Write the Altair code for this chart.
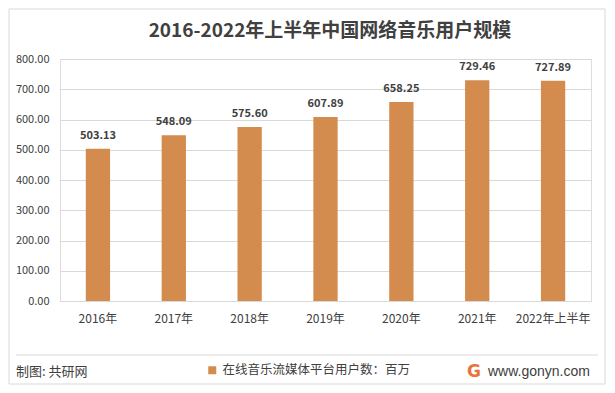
import altair as alt
import pandas as pd

years = ["2016年", "2017年", "2018年", "2019年", "2020年", "2021年", "2022年上半年"]
users = [503.13, 548.09, 575.60, 607.89, 658.25, 729.46, 727.89]
series_name = "在线音乐流媒体平台用户数：百万"
y_ticks = [0, 100, 200, 300, 400, 500, 600, 700, 800]
title_text = "2016-2022年上半年中国网络音乐用户规模"
source_text = "制图: 共研网"
site_text = "www.gonyn.com"
logo_text = "G"

FONT = "Noto Sans CJK SC"
BAR = "#D38B4E"
TXT = "#404040"
GRID = "#D9D9D9"

df = pd.DataFrame({"year": years, "users": users, "series": [series_name] * len(years)})
one = pd.DataFrame({"k": [0]})

x_enc = alt.X("year:N", sort=None, title=None,
              scale=alt.Scale(paddingInner=0.68, paddingOuter=0.34),
              axis=alt.Axis(labelAngle=0, ticks=False, domain=False, labelPadding=12,
                            labelFontSize=12, labelColor=TXT, labelFont=FONT, grid=False))
y_enc = alt.Y("users:Q", title=None, scale=alt.Scale(domain=[0, 800]),
              axis=alt.Axis(values=y_ticks, format=".2f", ticks=False, domain=False,
                            labelOverlap=False, labelPadding=11, labelFontSize=11,
                            labelColor=TXT, labelFont=FONT, gridColor=GRID, gridWidth=1))

base = alt.Chart(df)
bars = base.mark_bar(color=BAR).encode(
    x=x_enc, y=y_enc,
    color=alt.Color("series:N", scale=alt.Scale(domain=[series_name], range=[BAR]),
                    legend=alt.Legend(title=None, orient="none", legendX=146, legendY=305,
                                      symbolType="square", symbolSize=64, labelFont=FONT,
                                      labelFontSize=12.5, labelColor=TXT, labelLimit=400)),
)
labels = base.mark_text(dy=-13, fontSize=11, fontWeight="bold", font=FONT, color=TXT).encode(
    x=x_enc, y=y_enc, text=alt.Text("users:Q", format=".2f"))

frame = alt.Chart(one).mark_rect(fillOpacity=0, stroke=GRID, strokeWidth=1).encode(
    x=alt.value(-51), x2=alt.value(545), y=alt.value(-50), y2=alt.value(325))
sep = alt.Chart(one).mark_rule(color=GRID, strokeWidth=1).encode(
    x=alt.value(-44), x2=alt.value(538), y=alt.value(296))
title = alt.Chart(one).mark_text(text=title_text, fontSize=19, fontWeight="bold", font=FONT,
                                 color=TXT, baseline="middle", align="center").encode(
    x=alt.value(270), y=alt.value(-28))
source = alt.Chart(one).mark_text(text=source_text, fontSize=13, font=FONT, color=TXT,
                                  baseline="middle", align="left").encode(
    x=alt.value(-44), y=alt.value(313))
logo = alt.Chart(one).mark_text(text=logo_text, fontSize=17, fontWeight="bold", font="DejaVu Sans",
                                color="#E8743B", baseline="middle", align="center").encode(
    x=alt.value(414), y=alt.value(313))
site = alt.Chart(one).mark_text(text=site_text, fontSize=14, font="Liberation Sans", color=TXT,
                                baseline="middle", align="left").encode(
    x=alt.value(428), y=alt.value(313))

chart = alt.layer(frame, sep, bars, labels, title, source, logo, site).properties(
    width=531, height=242,
    autosize=alt.AutoSizeParams(type="none"),
    padding={"left": 52, "top": 51, "right": 16, "bottom": 84},
).configure_view(stroke=None).configure(background="white")

chart.save("out.html", embed_options={"renderer": "svg", "actions": False})
